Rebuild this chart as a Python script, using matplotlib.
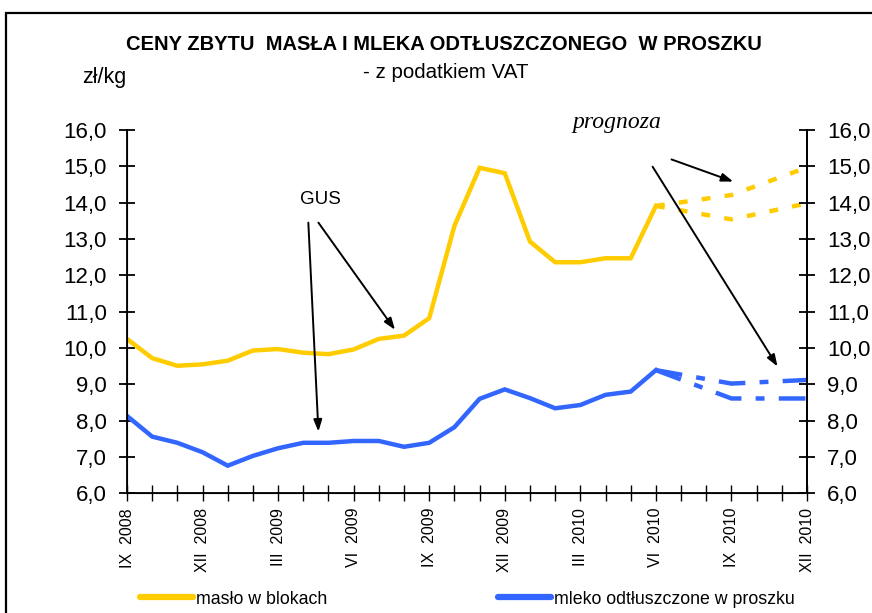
import numpy as np
import matplotlib
matplotlib.use("Agg")
import matplotlib.pyplot as plt
from matplotlib.patches import Rectangle

plt.rcParams['font.family'] = ['Liberation Sans', 'DejaVu Sans']

# ---- data ----
tick_labels = ["IX  2008", "XII  2008", "III  2009", "VI  2009", "IX  2009",
               "XII  2009", "III  2010", "VI  2010", "IX  2010", "XII  2010"]
n_months = 28  # IX 2008 .. XII 2010

maslo = [10.25, 9.72, 9.51, 9.55, 9.65, 9.93, 9.97, 9.87, 9.83, 9.96, 10.25,
         10.34, 10.82, 13.36, 14.96, 14.81, 12.93, 12.36, 12.36, 12.47, 12.47, 13.91]
mleko = [8.13, 7.56, 7.39, 7.13, 6.76, 7.03, 7.24, 7.39, 7.39, 7.44, 7.44,
         7.28, 7.39, 7.82, 8.60, 8.86, 8.62, 8.34, 8.43, 8.71, 8.80, 9.39]

prog_x = [21, 24, 27]
maslo_prog_hi = [13.91, 14.21, 14.97]
maslo_prog_lo = [13.91, 13.54, 13.98]
mleko_prog_hi = [9.39, 9.02, 9.12]
mleko_prog_lo = [9.39, 8.61, 8.61]

YELLOW = "#FFCC00"
BLUE = "#3366FF"

fig = plt.figure(figsize=(8.72, 6.13), dpi=100)
ax = fig.add_axes([127/872, 1-493.3/613, 680/872, (493.3-130)/613])

x = np.arange(len(maslo))
l1, = ax.plot(x, maslo, color=YELLOW, lw=3.2, solid_joinstyle='miter', label="masło w blokach")
l2, = ax.plot(x, mleko, color=BLUE, lw=3.2, solid_joinstyle='miter', label="mleko odtłuszczone w proszku")

for vals in (maslo_prog_hi, maslo_prog_lo):
    ax.plot(prog_x, vals, color=YELLOW, lw=3.2, dashes=(2, 3.2), dash_capstyle='butt')
for vals in (mleko_prog_hi, mleko_prog_lo):
    ax.plot(prog_x, vals, color=BLUE, lw=3.2, dashes=(6, 3.2, 2, 3.2), dash_capstyle='butt')

ax.set_xlim(0, n_months - 1)
ax.set_ylim(6, 16)
yt = np.arange(6, 17, 1)
ax.set_yticks(yt)
ax.set_yticklabels([f"{v:.1f}".replace(".", ",") for v in yt], fontsize=16)
ax.set_xticks(np.arange(0, n_months, 3))
ax.set_xticklabels(tick_labels, rotation=90, fontsize=11.5)
ax.set_xticks(np.arange(n_months), minor=True)

ax.spines['top'].set_visible(False)
for s in ('left', 'right', 'bottom'):
    ax.spines[s].set_linewidth(1.3)
ax.tick_params(axis='y', which='both', direction='inout', length=12, width=1.3, pad=8.5)
ax.tick_params(axis='x', which='both', direction='inout', length=11, width=1.0, pad=5)

ax2 = ax.twinx()
ax2.set_ylim(6, 16)
ax2.set_yticks(yt)
ax2.set_yticklabels([f"{v:.1f}".replace(".", ",") for v in yt], fontsize=16)
ax2.spines['top'].set_visible(False)
ax2.spines['right'].set_linewidth(1.3)
ax2.tick_params(axis='y', direction='inout', length=12, width=1.3, pad=8.5)

# annotations
arrow = dict(arrowstyle='-|>,head_length=0.5,head_width=0.18', color='black', lw=1.4,
             mutation_scale=14, shrinkA=0, shrinkB=0)
ax.text(7.7, 14.1, "GUS", fontsize=13.5, ha='center', va='center')
ax.annotate("", xy=(7.6, 7.70), xytext=(7.2, 13.45), arrowprops=arrow)
ax.annotate("", xy=(10.64, 10.5), xytext=(7.6, 13.45), arrowprops=arrow)
ax.text(19.45, 16.22, "prognoza", fontsize=17, fontstyle='italic',
        family='Liberation Serif', ha='center', va='center', clip_on=False)
ax.annotate("", xy=(24.07, 14.58), xytext=(21.62, 15.19), arrowprops=arrow)
ax.annotate("", xy=(25.83, 9.49), xytext=(20.87, 14.99), arrowprops=arrow)

# titles
fig.text(444/872, 1-44/613, "CENY ZBYTU  MASŁA I MLEKA ODTŁUSZCZONEGO  W PROSZKU",
         fontsize=14.5, fontweight='bold', ha='center', va='center')
fig.text(446/872, 1-72/613, "- z podatkiem VAT", fontsize=14.8, ha='center', va='center')
fig.text(104/872, 1-78/613, "zł/kg", fontsize=15.5, ha='center', va='center')

# legend
leg = fig.legend(handles=[l1, l2], loc='center left', bbox_to_anchor=(140/872, 1-599/613),
                 ncol=2, frameon=False, fontsize=12.8, handlelength=3.0,
                 handletextpad=0.15, columnspacing=9.6, borderpad=0, borderaxespad=0)
for h in leg.legend_handles:
    h.set_linewidth(4.5)
    h.set_solid_capstyle('round')

# outer frame
fig.patches.append(Rectangle((6/872, -0.2), 1.5, 0.2 + (1-13/613),
                             transform=fig.transFigure, fill=False, lw=1.6,
                             edgecolor='black'))

fig.savefig("out.png", dpi=100)
